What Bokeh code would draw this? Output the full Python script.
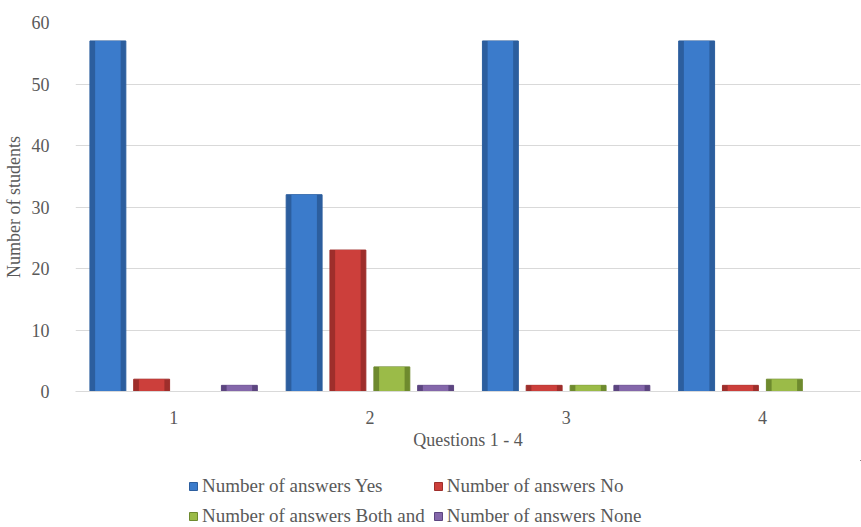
from bokeh.plotting import figure
from bokeh.models import ColumnDataSource, Legend, LegendItem, FixedTicker, Range1d
from bokeh.layouts import column
from bokeh.embed import file_html
from bokeh.resources import INLINE

questions = [1, 2, 3, 4]
tick_labels = ["1", "2", "3", "4"]
series_names = ["Number of answers Yes", "Number of answers No",
                "Number of answers Both and", "Number of answers None"]
yes_vals = [57, 32, 57, 57]
no_vals = [2, 23, 1, 1]
both_vals = [0, 4, 1, 2]
none_vals = [1, 1, 1, 0]

outer_colors = ["#2C5E9E", "#9E2E2B", "#6E8A2E", "#5C4580"]
inner_colors = ["#3B7BCB", "#CC3F3B", "#9BBB48", "#8467AA"]
offsets = [-0.335, -0.112, 0.112, 0.335]
FONT = "Liberation Serif"
GRAY = "#595959"
FS = "18px"

p = figure(width=861, height=460, output_backend="svg", toolbar_location=None,
           x_range=Range1d(0.5, 4.5), y_range=Range1d(0, 60),
           min_border_left=75, min_border_right=1, min_border_top=22,
           min_border_bottom=69)
p.outline_line_color = None
p.background_fill_color = "white"

for vals, oc, ic, off in zip([yes_vals, no_vals, both_vals, none_vals],
                             outer_colors, inner_colors, offsets):
    src = ColumnDataSource(dict(x=[q + off for q in questions], top=vals))
    p.vbar(x="x", top="top", bottom=0, width=0.183, source=src,
           fill_color=oc, line_color=oc, line_width=1)
    p.vbar(x="x", top="top", bottom=0, width=0.13, source=src,
           fill_color=ic, line_color=None)

p.xaxis.ticker = FixedTicker(ticks=questions)
p.xaxis.major_label_overrides = {q: t for q, t in zip(questions, tick_labels)}
p.xaxis.axis_label = "Questions 1 - 4"
p.yaxis.axis_label = "Number of students"
p.yaxis.ticker = FixedTicker(ticks=[0, 10, 20, 30, 40, 50, 60])

for ax in (p.xaxis[0], p.yaxis[0]):
    ax.major_label_text_font = FONT
    ax.major_label_text_font_size = FS
    ax.major_label_text_color = GRAY
    ax.axis_label_text_font = FONT
    ax.axis_label_text_font_size = FS
    ax.axis_label_text_color = GRAY
    ax.axis_label_text_font_style = "normal"
    ax.minor_tick_line_color = None
    ax.major_tick_line_color = None

p.yaxis.axis_line_color = None
p.xaxis.axis_line_color = "#D9D9D9"
p.xaxis.major_label_standoff = 13
p.xaxis.axis_label_standoff = 3
p.yaxis.major_label_standoff = 20
p.yaxis.axis_label_standoff = 5

p.xgrid.grid_line_color = None
p.ygrid.grid_line_color = "#D9D9D9"
p.ygrid.grid_line_width = 1

# legend strip
lg = figure(width=861, height=67, output_backend="svg", toolbar_location=None,
            x_range=Range1d(0, 1), y_range=Range1d(0, 1),
            min_border=0)
lg.axis.visible = False
lg.grid.visible = False
lg.outline_line_color = None
items = {}
for name, oc, ic in zip(series_names, outer_colors, inner_colors):
    hidden = ColumnDataSource(dict(x=[5], top=[5]))
    r = lg.vbar(x="x", top="top", bottom=4, width=0.1, source=hidden,
                fill_color=ic, line_color=oc, line_width=1)
    items[name] = LegendItem(label=name, renderers=[r])

order = [series_names[0], series_names[2], series_names[1], series_names[3]]
legend = Legend(items=[items[n] for n in order], ncols=2, location=(113, 0),
                label_text_font=FONT, label_text_font_size="19px",
                label_text_color=GRAY, glyph_width=10, glyph_height=10,
                label_standoff=4, spacing=8, padding=0, margin=0,
                border_line_color=None, background_fill_alpha=0)
lg.add_layout(legend, "center")

layout = column(p, lg, spacing=0)
open("out.html", "w").write(file_html(layout, INLINE))
